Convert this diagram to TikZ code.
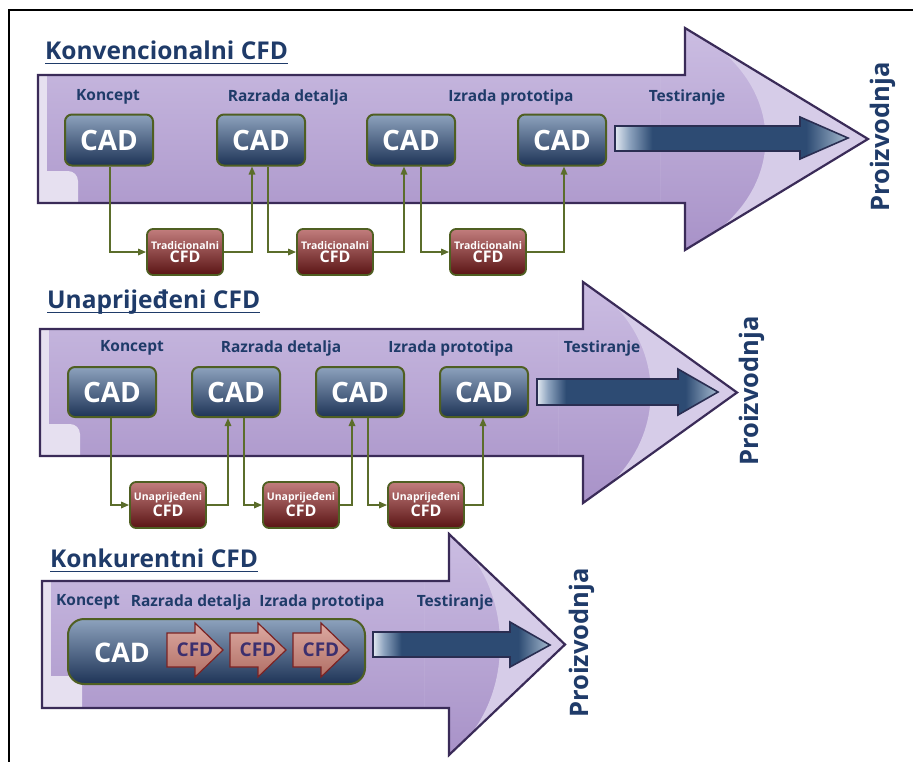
\documentclass[tikz,border=0pt]{standalone}
\usepackage{fontspec}
\setmainfont{Open Sans}
\usetikzlibrary{arrows.meta,calc}
\definecolor{purpTop}{HTML}{CBBDE2}
\definecolor{purpBot}{HTML}{A892C8}
\definecolor{purpLight}{HTML}{D6CCE8}
\definecolor{purpPale}{HTML}{E6E0F0}
\definecolor{arrowEdge}{HTML}{3A2B58}
\definecolor{navyTop}{HTML}{8DA2BD}
\definecolor{navyMid}{HTML}{2F4F78}
\definecolor{navyBot}{HTML}{1E3457}
\definecolor{marTop}{HTML}{C27D7D}
\definecolor{marMid}{HTML}{7D2424}
\definecolor{marBot}{HTML}{5A1414}
\definecolor{oliveEdge}{HTML}{4F5F22}
\definecolor{connCol}{HTML}{5B6D2B}
\definecolor{textNavy}{HTML}{1F3B69}
\definecolor{blA}{HTML}{E2E9F1}
\definecolor{blB}{HTML}{8EA4BF}
\definecolor{blC}{HTML}{2D4B73}
\definecolor{blD}{HTML}{A7BBD0}
\definecolor{blEdge}{HTML}{2A2E52}
\definecolor{sarTop}{HTML}{DDAAA2}
\definecolor{sarBot}{HTML}{B06E64}
\definecolor{sarEdge}{HTML}{7C2323}
\definecolor{sarText}{HTML}{3C2F6E}
\pgfdeclarehorizontalshading{bluearr}{100bp}{color(0bp)=(blA); color(25bp)=(blA); color(28bp)=(blB); color(33bp)=(blC); color(66bp)=(blC); color(75bp)=(blD); color(100bp)=(blD)}
\tikzset{
  arrowedge/.style={draw=arrowEdge, line width=2.2pt, line join=miter},
  cadbox/.style={rounded corners=7pt, draw=oliveEdge, line width=2pt,
    top color=navyTop, middle color=navyMid, bottom color=navyBot,
    text=white, font=\bfseries\fontsize{28}{28}\selectfont,
    minimum width=88pt, minimum height=51pt, inner sep=0pt},
  cfdbox/.style={rounded corners=6pt, draw=oliveEdge, line width=1.8pt,
    top color=marTop, middle color=marMid, bottom color=marBot,
    text=white, font=\bfseries, align=center,
    minimum width=76pt, minimum height=46pt, inner sep=0pt},
  lbl/.style={text=textNavy, font=\bfseries\fontsize{15.5}{17}\selectfont, inner sep=0pt},
  ttl/.style={text=textNavy, font=\bfseries\fontsize{24.5}{27}\selectfont, inner sep=0pt, anchor=base west},
  uline/.style={draw=textNavy, line width=1pt},
  prod/.style={text=textNavy, font=\bfseries\fontsize{25.5}{27}\selectfont, rotate=90, inner sep=0pt},
  conn/.style={draw=connCol, line width=1.6pt, -{Triangle[length=8pt,width=6.5pt]}},
  bluearrow/.style={draw=blEdge, line width=1.6pt, shading=bluearr, line join=miter},
  smallarrow/.style={draw=sarEdge, line width=1.2pt, top color=sarTop, bottom color=sarBot, line join=miter},
  sartext/.style={text=sarText, font=\bfseries\fontsize{19}{19}\selectfont, inner sep=0pt},
}
% big purple arrow: left, body top, body bottom, head x, head top, head bottom, tip x
\newcommand\purparrow[7]{%
  \begin{scope}
    \clip (#1,#2)--(#4,#2)--(#4,#5)--(#7,{(#5+#6)/2})--(#4,#6)--(#4,#3)--(#1,#3)--cycle;
    \shade[top color=purpTop, bottom color=purpBot] (#1,#5) rectangle (#7,#6);
    \begin{scope}
      \clip (#4-25,#5) rectangle (#7,#6);
      \fill[purpLight, even odd rule] (#4-25,#5) rectangle (#7,#6)
        ({#4-0.46*(#7-#4)},{(#5+#6)/2}) ellipse [x radius={0.9*(#7-#4)}, y radius={0.585*(#6-#5)}];
    \end{scope}
    \fill[purpPale] (#1,#2) rectangle (#1+9,#3);
    \fill[purpPale, rounded corners=10pt] (#1,#3-32) -- (#1+40,#3-32) -- (#1+40,#3+12) -- (#1,#3+12) -- cycle;
  \end{scope}
  \draw[arrowedge] (#1,#2)--(#4,#2)--(#4,#5)--(#7,{(#5+#6)/2})--(#4,#6)--(#4,#3)--(#1,#3)--cycle;
}
% blue arrow: left, shaft top, shaft bottom, head x, head top, head bottom, tip x, mid y
\newcommand\bluearrowdraw[8]{%
  \shadedraw[bluearrow] (#1,#2)--(#4,#2)--(#4,#5)--(#7,#8)--(#4,#6)--(#4,#3)--(#1,#3)--cycle;
}
% small CFD arrow: left x, name
\newcommand\smallcfd[2]{%
  \shadedraw[smallarrow] (#1,633)--(#1+28,633)--(#1+28,623)--(#1+56,650)--(#1+28,677)--(#1+28,667)--(#1,667)--cycle;
  \node[sartext] (#2) at (#1+28,650) {CFD};
}
\begin{document}
\begin{tikzpicture}[x=1pt,y=-1pt]
\useasboundingbox (0,0) rectangle (913,761);
\fill[white] (0,0) rectangle (913,761);
\draw[black, line width=1.5pt] (9,762) -- (9,10) -- (914,10);

% ---------------- Panel 1 ----------------
\node[ttl] (t1) at (45,59) {Konvencionalni CFD};
\draw[uline] ([yshift=-4pt]t1.base west) -- ([yshift=-4pt]t1.base east);
\purparrow{38}{75}{203}{685}{28}{250}{868}
\bluearrowdraw{615}{126}{151}{800}{117}{159}{848}{138}
\node[lbl] (l11) at (108,97) {Koncept};
\node[lbl] (l12) at (288,97) {Razrada detalja};
\node[lbl] (l13) at (511,97) {Izrada prototipa};
\node[lbl] (l14) at (687,97) {Testiranje};
\node[cadbox] (cad11) at (109,140) {CAD};
\node[cadbox] (cad12) at (261,140) {CAD};
\node[cadbox] (cad13) at (411,140) {CAD};
\node[cadbox] (cad14) at (562,140) {CAD};
\node[cfdbox] (cfd11) at (185,252) {\fontsize{10.5}{11}\selectfont Tradicionalni\\[1pt]\fontsize{16}{17}\selectfont CFD};
\node[cfdbox] (cfd12) at (335,252) {\fontsize{10.5}{11}\selectfont Tradicionalni\\[1pt]\fontsize{16}{17}\selectfont CFD};
\node[cfdbox] (cfd13) at (488,252) {\fontsize{10.5}{11}\selectfont Tradicionalni\\[1pt]\fontsize{16}{17}\selectfont CFD};
\draw[conn] ([xshift=1pt]cad11.south) |- (cfd11.west);
\draw[conn] (cfd11.east) -| ([xshift=-9pt]cad12.south);
\draw[conn] ([xshift=7pt]cad12.south) |- (cfd12.west);
\draw[conn] (cfd12.east) -| ([xshift=-7pt]cad13.south);
\draw[conn] ([xshift=10pt]cad13.south) |- (cfd13.west);
\draw[conn] (cfd13.east) -| ([xshift=2pt]cad14.south);
\node[prod] (p1) at (883,137) {Proizvodnja};

% ---------------- Panel 2 ----------------
\node[ttl] (t2) at (47,308) {Unaprijeđeni CFD};
\draw[uline] ([yshift=-4pt]t2.base west) -- ([yshift=-4pt]t2.base east);
\purparrow{40}{329}{456}{583}{282}{503}{737}
\bluearrowdraw{537}{379}{405}{678}{369}{415}{718}{392}
\node[lbl] (l21) at (132,348) {Koncept};
\node[lbl] (l22) at (281,348) {Razrada detalja};
\node[lbl] (l23) at (451,348) {Izrada prototipa};
\node[lbl] (l24) at (602,348) {Testiranje};
\node[cadbox, minimum height=50pt] (cad21) at (112,392) {CAD};
\node[cadbox, minimum height=50pt] (cad22) at (236,392) {CAD};
\node[cadbox, minimum height=50pt] (cad23) at (360,392) {CAD};
\node[cadbox, minimum height=50pt] (cad24) at (484,392) {CAD};
\node[cfdbox] (cfd21) at (168,505) {\fontsize{10.5}{11}\selectfont Unaprijeđeni\\[1pt]\fontsize{16}{17}\selectfont CFD};
\node[cfdbox] (cfd22) at (301,505) {\fontsize{10.5}{11}\selectfont Unaprijeđeni\\[1pt]\fontsize{16}{17}\selectfont CFD};
\node[cfdbox] (cfd23) at (426,505) {\fontsize{10.5}{11}\selectfont Unaprijeđeni\\[1pt]\fontsize{16}{17}\selectfont CFD};
\draw[conn] ([xshift=-1pt]cad21.south) |- (cfd21.west);
\draw[conn] (cfd21.east) -| ([xshift=-8pt]cad22.south);
\draw[conn] ([xshift=8pt]cad22.south) |- (cfd22.west);
\draw[conn] (cfd22.east) -| ([xshift=-8pt]cad23.south);
\draw[conn] ([xshift=8pt]cad23.south) |- (cfd23.west);
\draw[conn] (cfd23.east) -| ([xshift=-1pt]cad24.south);
\node[prod] (p2) at (752,391) {Proizvodnja};

% ---------------- Panel 3 ----------------
\node[ttl] (t3) at (50,567) {Konkurentni CFD};
\draw[uline] ([yshift=-4pt]t3.base west) -- ([yshift=-4pt]t3.base east);
\purparrow{42}{581}{708}{449}{534}{755}{565}
\bluearrowdraw{373}{632}{657}{510}{622}{667}{550}{645}
\node[lbl] (l31) at (88,602) {Koncept};
\node[lbl] (l32) at (191,602) {Razrada detalja};
\node[lbl] (l33) at (322,602) {Izrada prototipa};
\node[lbl] (l34) at (455,602) {Testiranje};
\node[cadbox, rounded corners=16pt, minimum width=297pt, minimum height=65pt] (cad3) at (216.5,651.5) {};
\node[text=white, font=\bfseries\fontsize{27}{27}\selectfont, inner sep=0pt] (cad3t) at (122,653) {CAD};
\smallcfd{167}{s1}
\smallcfd{230}{s2}
\smallcfd{293}{s3}
\node[prod] (p3) at (582,643) {Proizvodnja};
\end{tikzpicture}
\end{document}
